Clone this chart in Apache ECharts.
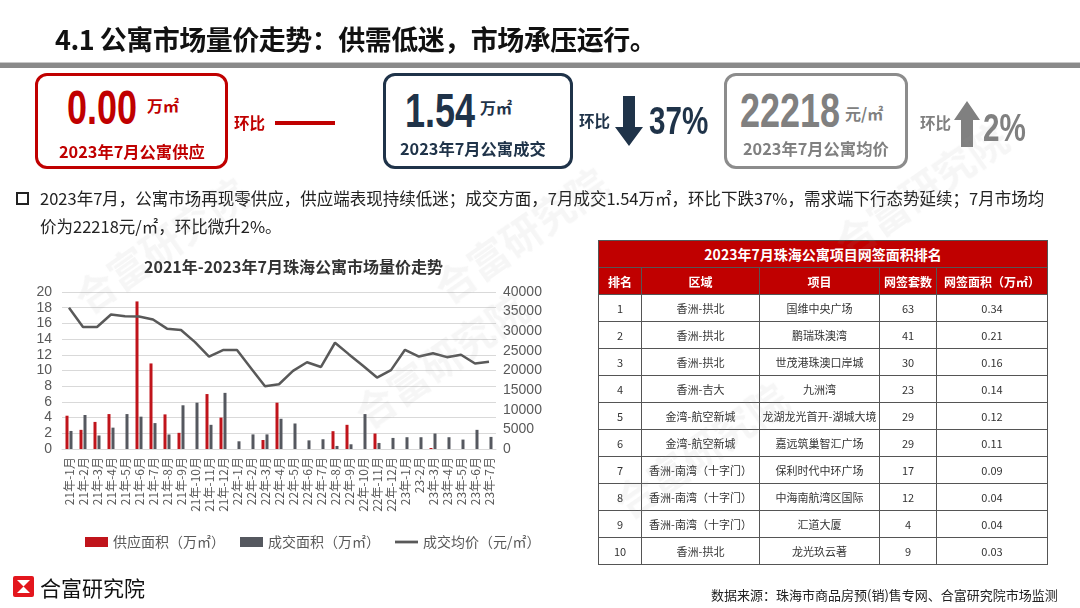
<!DOCTYPE html>
<html><head><meta charset="utf-8">
<script src="https://cdn.jsdelivr.net/npm/echarts@6/dist/echarts.min.js"></script>
<style>
html,body{margin:0;padding:0;background:#fff;}
body{width:1080px;height:608px;position:relative;overflow:hidden;font-family:"Noto Sans CJK SC","Noto Sans",sans-serif;}
#chart{position:absolute;left:0;top:0;width:1080px;height:608px;}
.abs{position:absolute;white-space:nowrap;}
.box{position:absolute;border-radius:12px;box-sizing:border-box;background:#fff;}
.big{font-family:"Liberation Sans","DejaVu Sans",sans-serif;font-weight:bold;font-size:48px;line-height:1;transform-origin:0 0;transform:scaleX(0.75);}
.unit{font-weight:bold;font-size:16px;}
.cap{font-weight:bold;font-size:16.3px;}
table{border-collapse:collapse;position:absolute;left:598px;top:240px;width:449px;font-size:11px;color:#333;table-layout:fixed;}
td,th{border:1px solid #555;text-align:center;padding:0;height:26px;white-space:nowrap;overflow:hidden;}
th{background:#c00000;color:#fff;font-weight:bold;font-size:12px;}
.wm{position:absolute;font-size:40px;color:rgba(160,160,160,0.09);transform:rotate(-35deg);white-space:nowrap;font-weight:bold;}
</style></head>
<body>
<div id="chart"></div>

<div class="abs" style="left:55px;top:19px;font-size:27px;font-weight:bold;color:#111;letter-spacing:-0.5px;">4.1 公寓市场量价走势：供需低迷，市场承压运行。</div>
<div class="abs" style="left:0;top:62px;width:1080px;height:5px;background:#8a8a8a;border-top:1px solid #c8c8c8;"></div>

<div class="box" style="left:35px;top:73px;width:193px;height:96px;border:3px solid #c00000;"></div>
<div class="abs big" style="left:67px;top:84px;color:#c00000;">0.00</div>
<div class="abs unit" style="left:147px;top:93px;color:#c00000;">万㎡</div>
<div class="abs cap" style="left:59px;top:139px;color:#c00000;">2023年7月公寓供应</div>
<div class="abs" style="left:234px;top:111px;font-size:15.5px;font-weight:bold;color:#c00000;">环比</div>
<div class="abs" style="left:275px;top:121px;width:60px;height:4px;background:#c00000;"></div>

<div class="box" style="left:383px;top:73px;width:190px;height:96px;border:3px solid #1f3349;"></div>
<div class="abs big" style="left:405px;top:87px;color:#1f3349;">1.54</div>
<div class="abs unit" style="left:480px;top:95px;color:#1f3349;">万㎡</div>
<div class="abs cap" style="left:400px;top:136px;color:#1f3349;">2023年7月公寓成交</div>
<div class="abs" style="left:579px;top:109px;font-size:15.5px;font-weight:bold;color:#1f3349;">环比</div>
<svg class="abs" style="left:615px;top:96px;" width="30" height="52"><polygon points="8,0 20,0 20,31 28,31 14,50 0,31 8,31" fill="#1f3349"/></svg>
<div class="abs big" style="left:649px;top:102px;font-size:38px;color:#1f3349;transform:scaleX(0.78);">37%</div>

<div class="box" style="left:724px;top:73px;width:184px;height:96px;border:3px solid #8c8c8c;"></div>
<div class="abs big" style="left:740px;top:87px;color:#808080;">22218</div>
<div class="abs unit" style="left:845px;top:101px;color:#808080;">元/㎡</div>
<div class="abs cap" style="left:743px;top:136px;color:#808080;">2023年7月公寓均价</div>
<div class="abs" style="left:920px;top:111px;font-size:15.5px;font-weight:bold;color:#808080;">环比</div>
<svg class="abs" style="left:953px;top:101px;" width="28" height="48"><polygon points="14,0 27,19 20,19 20,46 8,46 8,19 1,19" fill="#808080"/></svg>
<div class="abs big" style="left:983px;top:109px;font-size:38px;color:#808080;transform:scaleX(0.78);">2%</div>

<div class="abs" style="left:16px;top:192px;width:9px;height:9px;border:2px solid #222;"></div>
<div class="abs" style="left:40px;top:184px;font-size:16.5px;color:#222;line-height:28px;">2023年7月，公寓市场再现零供应，供应端表现持续低迷；成交方面，7月成交1.54万㎡，环比下跌37%，需求端下行态势延续；7月市场均<br>价为22218元/㎡，环比微升2%。</div>

<table>
<colgroup><col style="width:43px"><col style="width:118px"><col style="width:120px"><col style="width:57px"><col style="width:111px"></colgroup>
<tr><th colspan="5" style="font-size:14px;height:26px;">2023年7月珠海公寓项目网签面积排名</th></tr>
<tr><th>排名</th><th>区域</th><th>项目</th><th>网签套数</th><th>网签面积（万㎡）</th></tr>
<tbody id="tb"></tbody>
</table>

<svg class="abs" style="left:13px;top:576px;" width="21" height="21"><rect x="0" y="0" width="21" height="21" rx="2" fill="#e3161d"/><polygon points="4,4 17,4 10.5,10.5" fill="#fff"/><polygon points="4,17 17,17 10.5,10.5" fill="#fff"/></svg>
<div class="abs" style="left:40px;top:572px;font-size:21px;color:#111;">合富研究院</div>
<div class="abs" style="left:711px;top:585px;font-size:13px;color:#222;">数据来源：珠海市商品房预(销)售专网、合富研究院市场监测</div>

<div class="wm" style="left:60px;top:215px;">合富研究院</div>
<div class="wm" style="left:420px;top:205px;">合富研究院</div>
<div class="wm" style="left:820px;top:160px;">合富研究院</div>
<div class="wm" style="left:340px;top:330px;">合富研究院</div>
<div class="wm" style="left:600px;top:420px;">合富研究院</div>

<script>
var categories = ["21年-1月","21年-2月","21年-3月","21年-4月","21年-5月","21年-6月","21年-7月","21年-8月","21年-9月","21年-10月","21年-11月","21年-12月","22年-1月","22年-2月","22年-3月","22年-4月","22年-5月","22年-6月","22年-7月","22年-8月","22年-9月","22年-10月","22年-11月","22年-12月","23年-1月","23-2月","23年-3月","23年-4月","23年-5月","23年-6月","23年-7月"];
var supplyArea = [4.24,2.44,3.45,4.45,0,18.8,10.9,4.41,2.06,0,7.0,4.0,0,0,1.15,5.9,0,0,0,2.27,3.08,0,1.97,0,0,0,0.13,0,0,0,0];
var dealArea = [2.3,4.33,1.72,2.72,4.45,4.12,3.3,1.85,5.57,5.9,3.08,7.15,0.98,1.86,1.86,3.85,3.25,1.1,1.24,0.39,0.6,4.45,0.77,1.41,1.5,1.5,1.97,1.5,1.2,2.44,1.54];
var avgPrice = [35970,31090,31090,34260,33830,33750,32980,30660,30320,27230,23550,25200,25200,20600,16000,16500,19900,22100,20900,27070,24100,21200,18200,20100,25270,23550,24400,23400,24000,21780,22218];
var leftTicks = {min:0,max:20,interval:2};
var rightTicks = {min:0,max:40000,interval:5000};

var rankNo = [1,2,3,4,5,6,7,8,9,10];
var rankArea = ["香洲-拱北","香洲-拱北","香洲-拱北","香洲-吉大","金湾-航空新城","金湾-航空新城","香洲-南湾（十字门）","香洲-南湾（十字门）","香洲-南湾（十字门）","香洲-拱北"];
var rankProject = ["国维中央广场","鹏瑞珠澳湾","世茂港珠澳口岸城","九洲湾","龙湖龙光首开-湖城大境","嘉远筑巢智汇广场","保利时代中环广场","中海南航湾区国际","汇道大厦","龙光玖云著"];
var rankUnits = [63,41,30,23,29,29,17,12,4,9];
var rankSqm = ["0.34","0.21","0.16","0.14","0.12","0.11","0.09","0.04","0.04","0.03"];

var tb = document.getElementById('tb');
rankNo.forEach(function(n,i){
  var tr = document.createElement('tr');
  [n,rankArea[i],rankProject[i],rankUnits[i],rankSqm[i]].forEach(function(v){
    var td=document.createElement('td'); td.textContent=v; tr.appendChild(td);
  });
  tb.appendChild(tr);
});

var chart = echarts.init(document.getElementById('chart'),null,{renderer:'canvas'});
var txt = '#595959';
chart.setOption({
  animation:false,
  title:{text:'2021年-2023年7月珠海公寓市场量价走势',left:139,top:254,textStyle:{fontSize:16,fontWeight:'bold',color:'#333',fontFamily:'Noto Sans CJK SC'}},
  grid:{left:62,top:292,width:434,height:157},
  legend:{left:80,top:530,itemWidth:23,itemHeight:10,itemGap:15,textStyle:{fontSize:14,color:txt,fontFamily:'Noto Sans CJK SC'},
    data:[{name:'供应面积（万㎡）',icon:'rect'},{name:'成交面积（万㎡）',icon:'rect'},{name:'成交均价（元/㎡）',icon:'path://M0,0 L100,0 L100,12 L0,12 Z'}]},
  xAxis:{type:'category',data:categories,axisTick:{show:false},axisLine:{lineStyle:{color:'#d9d9d9'}},
    axisLabel:{rotate:90,interval:0,fontSize:12,color:txt,margin:8,fontFamily:'Noto Sans CJK SC'}},
  yAxis:[
    {type:'value',min:leftTicks.min,max:leftTicks.max,interval:leftTicks.interval,axisLabel:{fontSize:14,color:txt,margin:10},splitLine:{lineStyle:{color:'#d9d9d9'}},axisLine:{show:false}},
    {type:'value',min:rightTicks.min,max:rightTicks.max,interval:rightTicks.interval,axisLabel:{fontSize:14,color:txt,margin:7,formatter:function(v){return String(v);}},splitLine:{show:false},axisLine:{show:false}}
  ],
  series:[
    {name:'供应面积（万㎡）',type:'bar',data:supplyArea,barWidth:3,barGap:'33%',itemStyle:{color:'#c0141b'}},
    {name:'成交面积（万㎡）',type:'bar',data:dealArea,barWidth:3,itemStyle:{color:'#55585f'}},
    {name:'成交均价（元/㎡）',type:'line',yAxisIndex:1,data:avgPrice,symbol:'none',lineStyle:{color:'#595959',width:2.5},itemStyle:{color:'#595959'}}
  ]
});
</script>
</body></html>
